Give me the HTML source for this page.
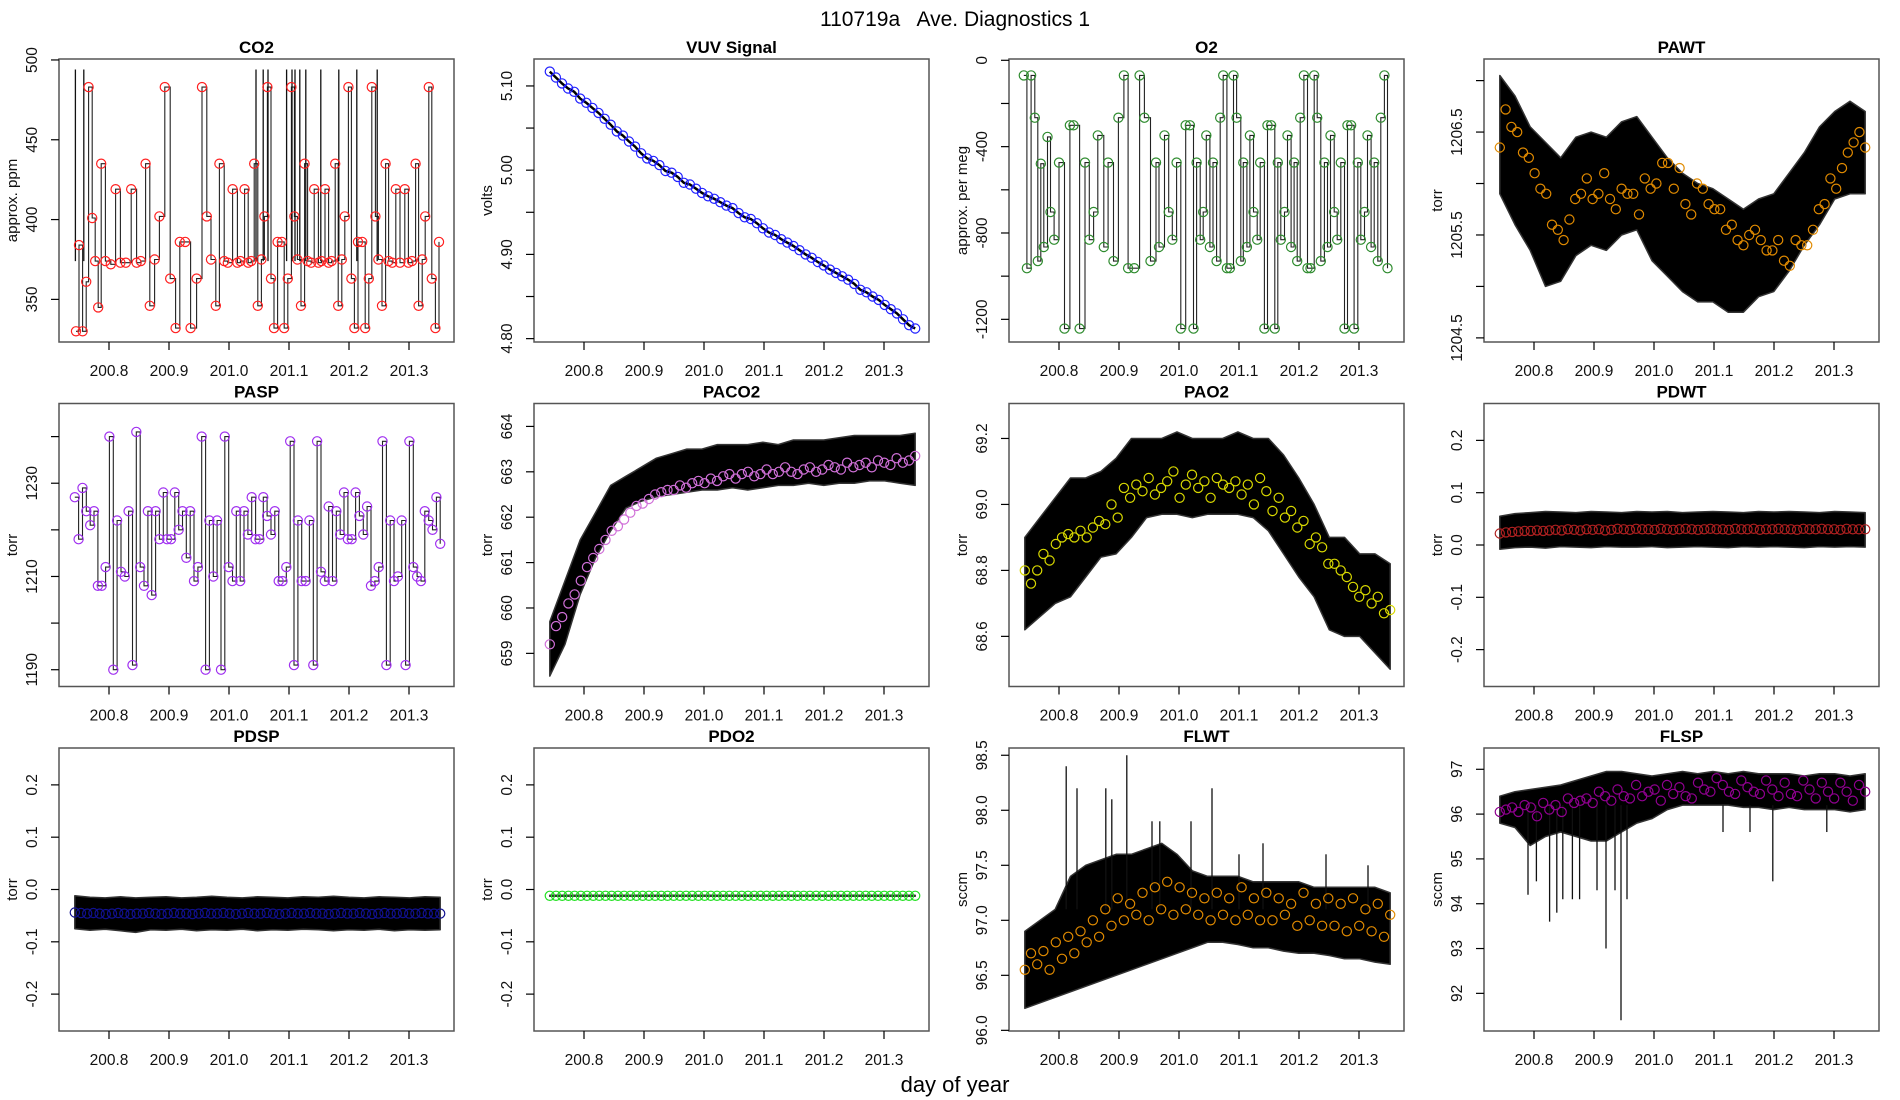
<!DOCTYPE html>
<html><head><meta charset="utf-8"><title>110719a Ave. Diagnostics 1</title>
<style>
html,body{margin:0;padding:0;background:#fff;}
svg{display:block;font-family:"Liberation Sans",Arial,sans-serif;}
</style></head>
<body>
<svg id="fig" xmlns="http://www.w3.org/2000/svg" width="1900" height="1100" viewBox="0 0 1900 1100">
<rect x="0" y="0" width="1900" height="1100" fill="#fff"/>
<text x="955" y="26" font-size="21" text-anchor="middle" xml:space="preserve">110719a   Ave. Diagnostics 1</text>
<text x="955" y="1092" font-size="22" text-anchor="middle">day of year</text>
</svg>
<script>
// ---------------- data ----------------
const xTicks = [200.8, 200.9, 201.0, 201.1, 201.2, 201.3];
const xTickLabels = ["200.8","200.9","201.0","201.1","201.2","201.3"];

const co2Days = [200.745,200.750,200.756,200.762,200.766,200.772,200.777,200.782,200.787,200.794,200.803,200.811,200.819,200.828,200.837,200.846,200.853,200.861,200.868,200.876,200.884,200.893,200.902,200.911,200.918,200.927,200.936,200.946,200.955,200.963,200.970,200.978,200.984,200.992,200.998,201.006,201.014,201.019,201.026,201.032,201.037,201.042,201.048,201.054,201.059,201.064,201.070,201.075,201.081,201.088,201.092,201.098,201.104,201.109,201.114,201.120,201.126,201.131,201.137,201.142,201.149,201.154,201.160,201.166,201.171,201.177,201.182,201.188,201.193,201.199,201.204,201.209,201.215,201.222,201.227,201.233,201.238,201.244,201.249,201.255,201.261,201.266,201.272,201.278,201.285,201.293,201.299,201.305,201.311,201.316,201.322,201.327,201.333,201.338,201.344,201.350];
const co2Vals = [330,384,330,361,483,401,374,345,435,374,372,419,373,373,419,373,374,435,346,375,402,483,363,332,386,386,332,363,483,402,375,346,435,374,373,419,373,374,419,373,374,435,346,375,402,483,363,332,386,386,332,363,483,402,375,346,435,374,373,419,373,374,419,373,374,435,346,375,402,483,363,332,386,386,332,363,483,402,375,346,435,374,373,419,373,419,373,374,435,346,375,402,483,363,332,386];
const co2SpikeDays = [200.744,200.758,201.045,201.057,201.065,201.096,201.105,201.110,201.118,201.128,201.153,201.183,201.213,201.247];
const co2SpikeTop = 494;

const vuvVals = [5.117,5.110,5.103,5.097,5.093,5.085,5.080,5.074,5.068,5.061,5.054,5.046,5.041,5.034,5.028,5.020,5.014,5.011,5.006,4.999,4.997,4.992,4.985,4.983,4.978,4.973,4.969,4.966,4.962,4.958,4.955,4.949,4.944,4.942,4.937,4.931,4.926,4.923,4.918,4.914,4.910,4.905,4.900,4.896,4.891,4.887,4.882,4.878,4.874,4.870,4.865,4.858,4.855,4.850,4.846,4.840,4.835,4.830,4.823,4.816,4.812];

const o2Days = [200.7414,200.7465,200.7535,200.7596,200.7646,200.7697,200.7747,200.7808,200.7859,200.7919,200.8000,200.8091,200.8182,200.8242,200.8343,200.8434,200.8505,200.8576,200.8646,200.8747,200.8818,200.8909,200.8990,200.9081,200.9152,200.9253,200.9343,200.9424,200.9525,200.9616,200.9667,200.9758,200.9828,200.9889,200.9960,201.0030,201.0111,201.0182,201.0242,201.0293,201.0354,201.0404,201.0455,201.0515,201.0566,201.0626,201.0687,201.0737,201.0798,201.0848,201.0909,201.0960,201.1030,201.1071,201.1131,201.1182,201.1242,201.1303,201.1354,201.1424,201.1475,201.1535,201.1596,201.1646,201.1697,201.1758,201.1808,201.1869,201.1919,201.1970,201.2020,201.2081,201.2141,201.2192,201.2253,201.2303,201.2364,201.2424,201.2475,201.2525,201.2586,201.2636,201.2697,201.2758,201.2808,201.2869,201.2919,201.2980,201.3030,201.3091,201.3141,201.3202,201.3253,201.3313,201.3364,201.3424,201.3475];
const o2Vals = [-70,-963,-70,-266,-930,-479,-865,-355,-703,-831,-474,-1243,-301,-301,-1243,-474,-831,-703,-348,-865,-474,-930,-266,-70,-963,-963,-70,-266,-930,-474,-865,-348,-703,-831,-474,-1243,-301,-301,-1243,-474,-831,-703,-348,-865,-474,-930,-266,-70,-963,-963,-70,-266,-930,-474,-865,-348,-703,-831,-474,-1243,-301,-301,-1243,-474,-831,-703,-348,-865,-474,-930,-266,-70,-963,-963,-70,-266,-930,-474,-865,-348,-703,-831,-474,-1243,-301,-301,-1243,-474,-831,-703,-348,-865,-474,-930,-266,-70,-963];

const pawtMeans = [1206.35,1206.72,1206.55,1206.5,1206.3,1206.25,1206.1,1205.95,1205.9,1205.6,1205.55,1205.45,1205.65,1205.85,1205.9,1206.05,1205.85,1205.9,1206.1,1205.85,1205.75,1205.95,1205.9,1205.9,1205.7,1206.05,1205.95,1206.0,1206.2,1206.2,1205.95,1206.15,1205.8,1205.7,1206.0,1205.95,1205.8,1205.75,1205.75,1205.55,1205.6,1205.45,1205.4,1205.5,1205.55,1205.45,1205.35,1205.35,1205.45,1205.25,1205.2,1205.45,1205.4,1205.4,1205.55,1205.75,1205.8,1206.05,1205.95,1206.15,1206.3,1206.4,1206.5,1206.35];
const pawtHi = [1207.05,1206.85,1206.55,1206.4,1206.25,1206.45,1206.5,1206.45,1206.6,1206.65,1206.45,1206.25,1206.1,1206.0,1205.95,1205.85,1205.75,1205.85,1205.9,1206.1,1206.3,1206.55,1206.7,1206.8,1206.7];
const pawtLo = [1205.9,1205.6,1205.35,1205.0,1205.05,1205.3,1205.4,1205.35,1205.5,1205.55,1205.25,1205.1,1204.95,1204.85,1204.85,1204.75,1204.75,1204.9,1204.95,1205.15,1205.4,1205.6,1205.85,1205.9,1205.9];

const paspVals = [1227,1218,1229,1224,1221,1224,1208,1208,1212,1240,1190,1222,1211,1210,1224,1191,1241,1212,1208,1224,1206,1224,1218,1228,1218,1218,1228,1220,1224,1214,1224,1209,1212,1240,1190,1222,1210,1222,1190,1240,1212,1209,1224,1209,1224,1219,1227,1218,1218,1227,1223,1219,1224,1209,1209,1212,1239,1191,1222,1209,1209,1222,1191,1239,1211,1209,1225,1209,1224,1219,1228,1218,1218,1228,1223,1219,1225,1208,1209,1212,1239,1191,1222,1209,1210,1222,1191,1239,1212,1210,1209,1224,1222,1220,1227,1217];

const paco2Means = [659.2,659.6,659.8,660.1,660.3,660.6,660.9,661.1,661.3,661.5,661.7,661.8,661.95,662.1,662.25,662.3,662.4,662.5,662.55,662.6,662.6,662.7,662.65,662.75,662.8,662.75,662.85,662.8,662.9,662.95,662.85,662.95,663.0,662.9,662.95,663.05,662.95,663.0,663.1,663.0,662.95,663.05,663.1,663.0,663.05,663.15,663.1,663.05,663.2,663.1,663.15,663.2,663.1,663.25,663.2,663.15,663.3,663.2,663.25,663.35];
const paco2Hi = [659.7,660.6,661.5,662.1,662.7,662.9,663.1,663.3,663.4,663.5,663.5,663.6,663.6,663.6,663.65,663.6,663.7,663.7,663.7,663.75,663.8,663.8,663.8,663.8,663.85];
const paco2Lo = [658.5,659.2,660.3,661.1,661.7,662.2,662.35,662.45,662.5,662.55,662.6,662.6,662.65,662.6,662.65,662.7,662.7,662.75,662.7,662.75,662.75,662.8,662.8,662.75,662.7];

const pao2Means = [68.8,68.76,68.8,68.85,68.83,68.88,68.9,68.91,68.9,68.92,68.9,68.93,68.95,68.94,69.0,68.96,69.05,69.02,69.06,69.04,69.08,69.03,69.05,69.07,69.1,69.02,69.06,69.09,69.05,69.07,69.02,69.08,69.06,69.05,69.07,69.03,69.06,69.0,69.08,69.04,68.98,69.02,68.96,68.98,68.93,68.95,68.88,68.9,68.87,68.82,68.82,68.8,68.78,68.75,68.72,68.74,68.7,68.72,68.67,68.68];
const pao2Hi = [68.9,68.96,69.02,69.08,69.08,69.1,69.14,69.2,69.2,69.2,69.22,69.2,69.2,69.2,69.22,69.2,69.2,69.15,69.08,69.0,68.9,68.9,68.85,68.85,68.82];
const pao2Lo = [68.62,68.66,68.7,68.72,68.78,68.84,68.85,68.9,68.96,68.97,68.97,68.96,68.97,68.97,68.97,68.96,68.92,68.85,68.78,68.72,68.62,68.6,68.6,68.55,68.5];

const pdwtMeans = [0.022,0.024,0.025,0.026,0.027,0.027,0.028,0.027,0.028,0.029,0.028,0.030,0.029,0.028,0.030,0.029,0.030,0.028,0.029,0.031,0.030,0.029,0.031,0.030,0.030,0.029,0.031,0.030,0.029,0.030,0.031,0.030,0.029,0.030,0.031,0.030,0.030,0.029,0.031,0.030,0.030,0.031,0.029,0.030,0.030,0.031,0.030,0.030,0.029,0.031,0.030,0.030,0.031,0.030,0.030,0.029,0.031,0.030,0.030,0.030];
const pdwtHi = [0.055,0.060,0.062,0.064,0.063,0.062,0.064,0.063,0.062,0.064,0.063,0.064,0.062,0.063,0.064,0.063,0.062,0.064,0.063,0.064,0.063,0.062,0.064,0.063,0.062];
const pdwtLo = [-0.008,-0.005,-0.004,-0.006,-0.003,-0.004,-0.005,-0.003,-0.004,-0.004,-0.003,-0.005,-0.004,-0.003,-0.004,-0.005,-0.003,-0.004,-0.003,-0.004,-0.005,-0.003,-0.004,-0.003,-0.004];

const pdspMeans = [-0.044,-0.045,-0.046,-0.045,-0.046,-0.047,-0.046,-0.045,-0.046,-0.047,-0.046,-0.046,-0.045,-0.046,-0.047,-0.046,-0.045,-0.046,-0.046,-0.047,-0.046,-0.045,-0.046,-0.046,-0.045,-0.046,-0.047,-0.046,-0.045,-0.046,-0.046,-0.045,-0.046,-0.047,-0.046,-0.045,-0.046,-0.046,-0.045,-0.046,-0.046,-0.047,-0.046,-0.045,-0.046,-0.046,-0.045,-0.046,-0.047,-0.046,-0.045,-0.046,-0.046,-0.045,-0.046,-0.046,-0.045,-0.046,-0.046,-0.046];
const pdspHi = [-0.012,-0.015,-0.016,-0.014,-0.016,-0.015,-0.014,-0.016,-0.015,-0.013,-0.015,-0.016,-0.014,-0.015,-0.016,-0.014,-0.015,-0.013,-0.015,-0.016,-0.014,-0.015,-0.016,-0.014,-0.015];
const pdspLo = [-0.075,-0.078,-0.076,-0.079,-0.082,-0.077,-0.078,-0.076,-0.079,-0.077,-0.078,-0.076,-0.079,-0.077,-0.078,-0.076,-0.077,-0.079,-0.077,-0.078,-0.076,-0.079,-0.077,-0.078,-0.077];

const pdo2Means = [-0.012,-0.012,-0.012,-0.012,-0.012,-0.012,-0.012,-0.012,-0.012,-0.012,-0.012,-0.012,-0.012,-0.012,-0.012,-0.012,-0.012,-0.012,-0.012,-0.012,-0.012,-0.012,-0.012,-0.012,-0.012,-0.012,-0.012,-0.012,-0.012,-0.012,-0.012,-0.012,-0.012,-0.012,-0.012,-0.012,-0.012,-0.012,-0.012,-0.012,-0.012,-0.012,-0.012,-0.012,-0.012,-0.012,-0.012,-0.012,-0.012,-0.012,-0.012,-0.012,-0.012,-0.012,-0.012,-0.012,-0.012,-0.012,-0.012,-0.012];
const pdo2Hi = [-0.011,-0.011,-0.011,-0.011,-0.011,-0.011,-0.011,-0.011,-0.011,-0.011,-0.011,-0.011,-0.011,-0.011,-0.011,-0.011,-0.011,-0.011,-0.011,-0.011,-0.011,-0.011,-0.011,-0.011,-0.011];
const pdo2Lo = [-0.013,-0.013,-0.013,-0.013,-0.013,-0.013,-0.013,-0.013,-0.013,-0.013,-0.013,-0.013,-0.013,-0.013,-0.013,-0.013,-0.013,-0.013,-0.013,-0.013,-0.013,-0.013,-0.013,-0.013,-0.013];

const flwtMeans = [96.55,96.7,96.6,96.72,96.55,96.8,96.65,96.85,96.7,96.9,96.8,97.0,96.85,97.1,96.95,97.2,97.0,97.15,97.05,97.25,97.0,97.3,97.1,97.35,97.05,97.3,97.1,97.25,97.05,97.2,97.0,97.25,97.05,97.2,97.0,97.3,97.05,97.2,97.0,97.25,97.0,97.2,97.05,97.15,96.95,97.25,97.0,97.15,96.95,97.2,96.95,97.15,96.9,97.2,96.95,97.1,96.9,97.15,96.85,97.05];
const flwtHi = [96.9,97.0,97.1,97.4,97.5,97.55,97.6,97.6,97.65,97.7,97.6,97.45,97.4,97.4,97.4,97.35,97.35,97.35,97.35,97.3,97.3,97.3,97.3,97.3,97.25];
const flwtLo = [96.2,96.25,96.3,96.35,96.4,96.45,96.5,96.55,96.6,96.65,96.7,96.75,96.8,96.8,96.78,96.75,96.75,96.72,96.7,96.7,96.68,96.65,96.65,96.62,96.6];
const flwtSpikeDays = [200.812,200.830,200.878,200.888,200.913,200.955,200.968,201.020,201.055,201.100,201.140,201.245,201.315];
const flwtSpikeVals = [98.4,98.2,98.2,98.1,98.5,97.9,97.9,97.9,98.2,97.6,97.7,97.6,97.5];

const flspMeans = [96.05,96.1,96.15,96.05,96.2,96.15,95.95,96.25,96.1,96.2,96.05,96.35,96.25,96.3,96.35,96.25,96.5,96.4,96.3,96.55,96.4,96.35,96.65,96.4,96.5,96.55,96.3,96.65,96.45,96.6,96.4,96.35,96.7,96.55,96.5,96.8,96.65,96.5,96.45,96.75,96.6,96.5,96.45,96.75,96.55,96.4,96.7,96.45,96.4,96.75,96.55,96.35,96.7,96.5,96.35,96.7,96.5,96.3,96.65,96.5];
const flspHi = [96.4,96.5,96.55,96.6,96.65,96.75,96.85,96.95,96.95,96.9,96.85,96.9,96.95,96.9,96.95,96.9,96.95,96.9,96.9,96.9,96.85,96.9,96.9,96.85,96.9];
const flspLo = [95.8,95.7,95.3,95.5,95.6,95.5,95.4,95.4,95.6,95.8,95.9,96.1,96.2,96.2,96.2,96.2,96.15,96.15,96.1,96.15,96.1,96.1,96.1,96.05,96.1];
const flspSpikeDays = [200.790,200.804,200.826,200.838,200.848,200.864,200.876,200.905,200.920,200.935,200.945,200.955,201.115,201.160,201.198,201.288];
const flspSpikeVals = [94.2,94.5,93.6,93.8,94.1,94.1,94.1,94.3,93.0,94.3,91.4,94.1,95.6,95.6,94.5,95.6];

// ---------------- drawing ----------------
const NS = "http://www.w3.org/2000/svg";
const svg = document.getElementById("fig");
const rowTops = [59, 403.5, 748];
const BW = 395, BH = 283;
const FIRST = 200.743, LAST = 201.352;

function mk(tag, attrs, parent) {
  const e = document.createElementNS(NS, tag);
  for (const k in attrs) e.setAttribute(k, attrs[k]);
  (parent || svg).appendChild(e);
  return e;
}
function spread(n, i) { return FIRST + (LAST - FIRST) * i / (n - 1); }

function panel(p) {
  const x0 = 59 + p.col * 475, y0 = rowTops[p.row];
  const g = mk("g", {});
  
  
  const xs = d => x0 + 50 + (d - 200.8) * 600;
  const ys = v => y0 + (p.yTop - v) / (p.yTop - p.yBot) * BH;
  const clipId = "clip-" + p.key;
  const cp = mk("clipPath", {id: clipId}, g);
  mk("rect", {x: x0, y: y0, width: BW, height: BH}, cp);
  const plot = mk("g", {"clip-path": "url(#" + clipId + ")"}, g);
  
  

  // envelope of raw data
  if (p.hi) {
    let pts = [];
    for (let i = 0; i < p.hi.length; i++) pts.push(xs(spread(p.hi.length, i)).toFixed(1) + "," + ys(p.hi[i]).toFixed(1));
    for (let i = p.lo.length - 1; i >= 0; i--) pts.push(xs(spread(p.lo.length, i)).toFixed(1) + "," + ys(p.lo[i]).toFixed(1));
    const env = mk("polygon", {points: pts.join(" "), fill: "#000", stroke: "#333", "stroke-width": 1.5, "stroke-linejoin": "round"}, plot);
    
    
  }
  // step line for discrete-standard series
  if (p.step) {
    const days = p.days || p.vals.map((_, i) => spread(p.vals.length, i));
    let d = "M" + xs(days[0]).toFixed(1) + "," + ys(p.vals[0]).toFixed(1);
    for (let i = 1; i < p.vals.length; i++) {
      d += " H" + xs(days[i]).toFixed(1) + " V" + ys(p.vals[i]).toFixed(1);
    }
    const ln = mk("path", {d: d, fill: "none", stroke: "#222", "stroke-width": 1.1}, plot);
    
    
  }
  if (p.line) {
    const days = p.vals.map((_, i) => spread(p.vals.length, i));
    const d = p.vals.map((v, i) => (i ? "L" : "M") + xs(days[i]).toFixed(1) + "," + ys(v).toFixed(1)).join(" ");
    const ln = mk("path", {d: d, fill: "none", stroke: "#000", "stroke-width": 2.5}, plot);
    
    
  }
  // spikes
  if (p.spikeDays) {
    for (let i = 0; i < p.spikeDays.length; i++) {
      const v = p.spikeVals ? p.spikeVals[i] : p.spikeTop;
      const base = p.spikeBase;
      const s = mk("line", {x1: xs(p.spikeDays[i]), x2: xs(p.spikeDays[i]), y1: ys(base), y2: ys(v), stroke: "#111", "stroke-width": 1.3}, plot);
      
      
    }
  }
  // circles
  const cdays = p.days || p.vals.map((_, i) => spread(p.vals.length, i));
  for (let i = 0; i < p.vals.length; i++) {
    const c = mk("circle", {cx: xs(cdays[i]).toFixed(1), cy: ys(p.vals[i]).toFixed(1), r: 4.6, fill: "none", stroke: p.color, "stroke-width": 1.2}, plot);
    
    
  }
  // box
  const box = mk("rect", {x: x0, y: y0, width: BW, height: BH, fill: "none", stroke: "#555", "stroke-width": 1.5}, g);
  
  
  // x axis
  const xa = mk("g", {}, g);
  
  
  for (let i = 0; i < xTicks.length; i++) {
    const x = xs(xTicks[i]);
    mk("line", {x1: x, x2: x, y1: y0 + BH, y2: y0 + BH + 8, stroke: "#000", "stroke-width": 1.2}, xa);
    const t = mk("text", {x: x, y: y0 + BH + 34, "font-size": 15.5, "text-anchor": "middle", fill: "#111"}, xa);
    
    
    t.textContent = xTickLabels[i];
  }
  // y axis
  const ya = mk("g", {}, g);
  
  
  for (let i = 0; i < p.yTicks.length; i++) {
    const y = ys(p.yTicks[i]);
    mk("line", {x1: x0 - 8, x2: x0, y1: y, y2: y, stroke: "#000", "stroke-width": 1.2}, ya);
    if (p.yLabels[i] !== "") {
      const t = mk("text", {x: 0, y: 0, transform: "translate(" + (x0 - 22) + "," + y.toFixed(1) + ") rotate(-90)", "font-size": 15.5, "text-anchor": "middle", fill: "#111"}, ya);
      
      
      t.textContent = p.yLabels[i];
    }
  }
  const yt = mk("text", {x: 0, y: 0, transform: "translate(" + (x0 - 42) + "," + (y0 + BH / 2) + ") rotate(-90)", "font-size": 15, "text-anchor": "middle", fill: "#111"}, g);
  
  
  yt.textContent = p.ylab;
  const tt = mk("text", {x: x0 + BW / 2, y: y0 - 6, "font-size": 17, "font-weight": "bold", "text-anchor": "middle"}, g);
  
  
  tt.textContent = p.title;
}

const pdTicks = [-0.2, -0.1, 0.0, 0.1, 0.2];
const pdLabels = ["-0.2", "-0.1", "0.0", "0.1", "0.2"];

panel({key:"co2", col:0,row:0,title:"CO2",ylab:"approx. ppm",yBot:323.3,yTop:500.6,yTicks:[350,400,450,500],yLabels:["350","400","450","500"],vals:co2Vals,days:co2Days,step:true,color:"#ff2020",spikeDays:co2SpikeDays,spikeTop:co2SpikeTop,spikeBase:374});
panel({key:"vuv", col:1,row:0,title:"VUV Signal",ylab:"volts",yBot:4.796,yTop:5.132,yTicks:[4.80,4.85,4.90,4.95,5.00,5.05,5.10],yLabels:["4.80","","4.90","","5.00","","5.10"],vals:vuvVals,line:true,color:"#2020ff"});
panel({key:"o2", col:2,row:0,title:"O2",ylab:"approx. per meg",yBot:-1305,yTop:6,yTicks:[-1200,-1000,-800,-600,-400,-200,0],yLabels:["-1200","","-800","","-400","","0"],vals:o2Vals,days:o2Days,step:true,color:"#2e8b2e"});
panel({key:"pawt", col:3,row:0,title:"PAWT",ylab:"torr",yBot:1204.46,yTop:1207.21,yTicks:[1204.5,1205.0,1205.5,1206.0,1206.5,1207.0],yLabels:["1204.5","","1205.5","","1206.5",""],vals:pawtMeans,hi:pawtHi,lo:pawtLo,color:"#e08a00"});

panel({key:"pasp", col:0,row:1,title:"PASP",ylab:"torr",yBot:1186.4,yTop:1247.1,yTicks:[1190,1200,1210,1220,1230,1240],yLabels:["1190","","1210","","1230",""],vals:paspVals,step:true,color:"#a030f0"});
panel({key:"paco2", col:1,row:1,title:"PACO2",ylab:"torr",yBot:658.27,yTop:664.505,yTicks:[659,660,661,662,663,664],yLabels:["659","660","661","662","663","664"],vals:paco2Means,hi:paco2Hi,lo:paco2Lo,color:"#d070d8"});
panel({key:"pao2", col:2,row:1,title:"PAO2",ylab:"torr",yBot:68.448,yTop:69.306,yTicks:[68.6,68.8,69.0,69.2],yLabels:["68.6","68.8","69.0","69.2"],vals:pao2Means,hi:pao2Hi,lo:pao2Lo,color:"#d8d800"});
panel({key:"pdwt", col:3,row:1,title:"PDWT",ylab:"torr",yBot:-0.2705,yTop:0.2705,yTicks:pdTicks,yLabels:pdLabels,vals:pdwtMeans,hi:pdwtHi,lo:pdwtLo,color:"#b02020"});

panel({key:"pdsp", col:0,row:2,title:"PDSP",ylab:"torr",yBot:-0.2705,yTop:0.2705,yTicks:pdTicks,yLabels:pdLabels,vals:pdspMeans,hi:pdspHi,lo:pdspLo,color:"#101090"});
panel({key:"pdo2", col:1,row:2,title:"PDO2",ylab:"torr",yBot:-0.2705,yTop:0.2705,yTicks:pdTicks,yLabels:pdLabels,vals:pdo2Means,hi:pdo2Hi,lo:pdo2Lo,color:"#20e020"});
panel({key:"flwt", col:2,row:2,title:"FLWT",ylab:"sccm",yBot:95.994,yTop:98.566,yTicks:[96.0,96.5,97.0,97.5,98.0,98.5],yLabels:["96.0","96.5","97.0","97.5","98.0","98.5"],vals:flwtMeans,hi:flwtHi,lo:flwtLo,color:"#e08a00",spikeDays:flwtSpikeDays,spikeVals:flwtSpikeVals,spikeBase:97.1});
panel({key:"flsp", col:3,row:2,title:"FLSP",ylab:"sccm",yBot:91.16,yTop:97.475,yTicks:[92,93,94,95,96,97],yLabels:["92","93","94","95","96","97"],vals:flspMeans,hi:flspHi,lo:flspLo,color:"#900090",spikeDays:flspSpikeDays,spikeVals:flspSpikeVals,spikeBase:96.2});
</script>
</body></html>
